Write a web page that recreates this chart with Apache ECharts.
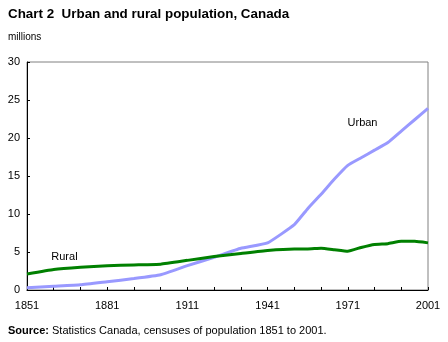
<!DOCTYPE html>
<html><head><meta charset="utf-8">
<script src="https://cdn.jsdelivr.net/npm/echarts@6/dist/echarts.min.js"></script>
<style>html,body{margin:0;padding:0;background:#fff}#c{width:448px;height:342px}</style>
</head><body><div id="c"></div>
<script>
var years = [1851,1861,1871,1881,1891,1901,1911,1921,1931,1941,1951,1956,1961,1966,1971,1976,1981,1986,1991,1996,2001];
var urban = [0.3,0.5,0.7,1.1,1.5,2.0,3.2,4.3,5.5,6.2,8.6,10.7,12.6,14.6,16.4,17.4,18.4,19.4,20.9,22.4,23.9];
var rural = [2.1,2.7,3.0,3.2,3.3,3.4,3.9,4.4,4.8,5.2,5.4,5.4,5.5,5.3,5.1,5.6,6.0,6.1,6.4,6.4,6.2];
var yTicks = [0,5,10,15,20,25,30];
var baseYear = 1851;
function pairs(vals){ return years.map(function(y,i){ return [y-baseYear, vals[i]]; }); }
var font = 'Liberation Sans, Arial, sans-serif';
var chart = echarts.init(document.getElementById('c'), null, {renderer:'canvas'});
chart.setOption({
  animation:false,
  backgroundColor:'#fff',
  title:[
    {text:'Chart 2  Urban and rural population, Canada', left:8, top:8, padding:0, textStyle:{fontFamily:font, fontSize:13.4, fontWeight:'bold', color:'#000'}},
    {text:'millions', left:8, top:32, padding:0, textStyle:{fontFamily:font, fontSize:10, fontWeight:'normal', color:'#000'}},
    {text:'{b|Source:} Statistics Canada, censuses of population 1851 to 2001.', left:8, top:325, padding:0,
     textStyle:{fontFamily:font, fontSize:11, fontWeight:'normal', color:'#000', rich:{b:{fontFamily:font, fontSize:11, fontWeight:'bold', color:'#000'}}}}
  ],
  grid:{left:27, right:20, top:62, bottom:52, show:true, borderColor:'#808080', borderWidth:1},
  xAxis:{type:'value', min:0, max:150, interval:10,
    axisLine:{show:true, onZero:false, lineStyle:{color:'#000', width:1}},
    axisTick:{show:true, inside:true, length:3, lineStyle:{color:'#000'}},
    splitLine:{show:false},
    axisLabel:{margin:10, fontFamily:font, fontSize:11, color:'#000',
      formatter:function(v){ return (v%30===0) ? String(v+baseYear) : ''; }}
  },
  yAxis:{type:'value', min:yTicks[0], max:yTicks[yTicks.length-1], interval:5,
    axisLine:{show:true, lineStyle:{color:'#000', width:1}},
    axisTick:{show:true, inside:true, length:3, lineStyle:{color:'#000'}},
    splitLine:{show:false},
    axisLabel:{margin:7, fontFamily:font, fontSize:11, color:'#000'}
  },
  series:[
    {name:'Urban', type:'line', data:pairs(urban), smooth:0.12, showSymbol:false, lineStyle:{color:'#9999ff', width:3}, z:2,
     markPoint:{symbol:'rect', symbolSize:0, data:[{coord:[125.5,22.0], label:{show:true, formatter:'Urban', fontFamily:font, fontSize:11, color:'#000'}}]}},
    {name:'Rural', type:'line', data:pairs(rural), smooth:0.12, showSymbol:false, lineStyle:{color:'#008000', width:3}, z:3,
     markPoint:{symbol:'rect', symbolSize:0, data:[{coord:[14,4.4], label:{show:true, formatter:'Rural', fontFamily:font, fontSize:11, color:'#000'}}]}}
  ]
});
</script></body></html>
